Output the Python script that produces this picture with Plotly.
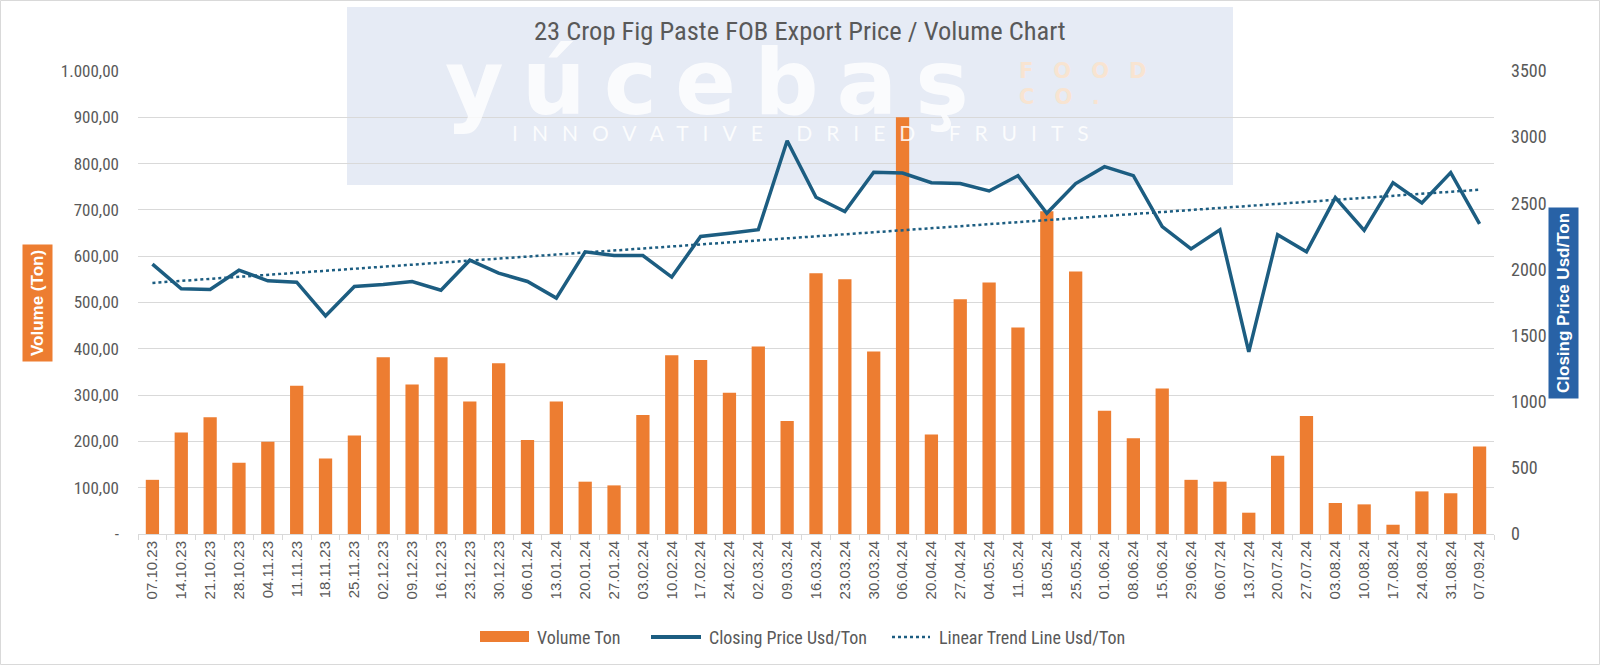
import numpy as np
import plotly.graph_objects as go

dates = ["07.10.23", "14.10.23", "21.10.23", "28.10.23", "04.11.23", "11.11.23", "18.11.23",
         "25.11.23", "02.12.23", "09.12.23", "16.12.23", "23.12.23", "30.12.23", "06.01.24",
         "13.01.24", "20.01.24", "27.01.24", "03.02.24", "10.02.24", "17.02.24", "24.02.24",
         "02.03.24", "09.03.24", "16.03.24", "23.03.24", "30.03.24", "06.04.24", "20.04.24",
         "27.04.24", "04.05.24", "11.05.24", "18.05.24", "25.05.24", "01.06.24", "08.06.24",
         "15.06.24", "29.06.24", "06.07.24", "13.07.24", "20.07.24", "27.07.24", "03.08.24",
         "10.08.24", "17.08.24", "24.08.24", "31.08.24", "07.09.24"]

volume_ton = [117, 219, 252, 154, 199, 320, 163, 213, 382, 323, 382, 286, 369, 203,
              286, 113, 105, 257, 386, 376, 305, 405, 244, 563, 550, 394, 900, 215,
              507, 543, 446, 697, 567, 266, 207, 314, 117, 113, 46, 169, 255, 67,
              64, 20, 92, 88, 189]

closing_price = [2040, 1853, 1848, 1994, 1914, 1904, 1649, 1871, 1886, 1909, 1843, 2070, 1972, 1909,
                 1783, 2133, 2105, 2105, 1942, 2249, 2274, 2300, 2973, 2546, 2437, 2735, 2729, 2656,
                 2649, 2593, 2709, 2425, 2649, 2777, 2709, 2324, 2155, 2300, 1377, 2262, 2133, 2543,
                 2295, 2656, 2503, 2732, 2344]

left_ticks = [0, 100, 200, 300, 400, 500, 600, 700, 800, 900, 1000]
left_tick_text = ["-", "100,00", "200,00", "300,00", "400,00", "500,00", "600,00",
                  "700,00", "800,00", "900,00", "1.000,00"]
right_ticks = [0, 500, 1000, 1500, 2000, 2500, 3000, 3500]

# linear trend line of closing price
idx = np.arange(len(closing_price))
slope, intercept = np.polyfit(idx, closing_price, 1)
trend = slope * idx + intercept

ORANGE = "#ED7D31"
BLUE = "#1C5D81"
GREY = "#595959"
NARROW = "Liberation Sans Narrow, Arial Narrow, Roboto Condensed, sans-serif"

# plot area pixel geometry (for paper-coordinate decorations)
W, H = 1600, 665
L, R, T, B = 138, 106, 71, 131
PW, PH = W - L - R, H - T - B
def px(x):
    return (x - L) / PW
def py(y):
    return (H - B - y) / PH

fig = go.Figure()
fig.add_trace(go.Bar(x=dates, y=volume_ton, name="Volume Ton", marker_color=ORANGE,
                     marker_line_width=0, yaxis="y"))
fig.add_trace(go.Scatter(x=dates, y=closing_price, name="Closing Price Usd/Ton", mode="lines",
                         line=dict(color=BLUE, width=3.5), yaxis="y2"))
fig.add_trace(go.Scatter(x=dates, y=trend, name="Linear Trend Line Usd/Ton", mode="lines",
                         line=dict(color=BLUE, width=2.5, dash="dot"), yaxis="y2"))

shapes = [
    # outer chart border
    dict(type="rect", xref="paper", yref="paper", x0=px(0.5), x1=px(W - 0.5), y0=py(H - 0.5), y1=py(0.5),
         line=dict(color="#D9D9D9", width=1), fillcolor="rgba(0,0,0,0)", layer="below"),
    # watermark panel
    dict(type="rect", xref="paper", yref="paper", x0=px(347), x1=px(1233), y0=py(185), y1=py(7),
         line=dict(width=0), fillcolor="#E6EBF5", layer="below"),
    # manual legend swatches
    dict(type="rect", xref="paper", yref="paper", x0=px(480), x1=px(529), y0=py(642), y1=py(631),
         line=dict(width=0), fillcolor=ORANGE),
    dict(type="line", xref="paper", yref="paper", x0=px(651), x1=px(701), y0=py(637), y1=py(637),
         line=dict(color=BLUE, width=4)),
    dict(type="line", xref="paper", yref="paper", x0=px(892), x1=px(930), y0=py(637), y1=py(637),
         line=dict(color=BLUE, width=2.5, dash="dot")),
]

annotations = [
    # watermark texts
    dict(text='<span style="letter-spacing:18px"><b>yúcebaş</b></span>', xref="paper", yref="paper",
         x=px(716), y=py(82), showarrow=False,
         font=dict(family="DejaVu Sans", size=90, color="white"), opacity=0.8,
         xanchor="center", yanchor="middle"),
    dict(text='<span style="letter-spacing:20px"><b>FOOD</b></span>', xref="paper", yref="paper",
         x=px(1017), y=py(71), showarrow=False,
         font=dict(family="DejaVu Sans", size=21, color="#FCE3CB"), opacity=0.85,
         xanchor="left", yanchor="middle"),
    dict(text='<span style="letter-spacing:20px"><b>CO.</b></span>', xref="paper", yref="paper",
         x=px(1017), y=py(97), showarrow=False,
         font=dict(family="DejaVu Sans", size=21, color="#FCE3CB"), opacity=0.85,
         xanchor="left", yanchor="middle"),
    dict(text='<span style="letter-spacing:14px">INNOVATIVE DRIED FRUITS</span>', xref="paper", yref="paper",
         x=px(807), y=py(132), showarrow=False,
         font=dict(family="Lato, sans-serif", size=21, color="white"), opacity=0.85,
         xanchor="center", yanchor="middle"),
    # title
    dict(text="23 Crop Fig Paste FOB Export Price / Volume Chart", xref="paper", yref="paper",
         x=px(800), y=py(31), showarrow=False, font=dict(family=NARROW, size=26.5, color=GREY),
         xanchor="center", yanchor="middle"),
    # axis titles in coloured boxes
    dict(text="<b>Volume (Ton)</b>", xref="paper", yref="paper", x=px(37), y=py(303), showarrow=False,
         textangle=-90, bgcolor=ORANGE, borderpad=5, font=dict(family="Liberation Sans", size=17, color="white"),
         xanchor="center", yanchor="middle"),
    dict(text="<b>Closing Price Usd/Ton</b>", xref="paper", yref="paper", x=px(1563), y=py(303), showarrow=False,
         textangle=-90, bgcolor="#2862A6", borderpad=5, font=dict(family="Liberation Sans", size=17, color="white"),
         xanchor="center", yanchor="middle"),
    # manual legend labels
    dict(text="Volume Ton", xref="paper", yref="paper", x=px(535), y=py(637), showarrow=False,
         font=dict(family=NARROW, size=18, color=GREY), xanchor="left", yanchor="middle"),
    dict(text="Closing Price Usd/Ton", xref="paper", yref="paper", x=px(707), y=py(637), showarrow=False,
         font=dict(family=NARROW, size=18, color=GREY), xanchor="left", yanchor="middle"),
    dict(text="Linear Trend Line Usd/Ton", xref="paper", yref="paper", x=px(937), y=py(637), showarrow=False,
         font=dict(family=NARROW, size=18, color=GREY), xanchor="left", yanchor="middle"),
]

fig.update_layout(
    width=W, height=H,
    margin=dict(l=L, r=R, t=T, b=B, pad=0),
    paper_bgcolor="white", plot_bgcolor="rgba(0,0,0,0)",
    showlegend=False,
    bargap=0.54,
    xaxis=dict(type="category", tickangle=-90, tickfont=dict(family="Liberation Sans", size=15, color=GREY),
               showgrid=False, showline=True, linecolor="#D9D9D9", linewidth=1,
               ticks="outside", tickson="boundaries", ticklen=5, tickcolor="#D9D9D9"),
    yaxis=dict(range=[0, 1000], tickvals=left_ticks, ticktext=left_tick_text,
               tickfont=dict(family=NARROW, size=17, color=GREY), showgrid=True, gridcolor="#D9D9D9",
               gridwidth=1, zeroline=False, showline=False, ticklabelstandoff=18),
    yaxis2=dict(range=[0, 3500], tickvals=right_ticks, overlaying="y", side="right",
                tickfont=dict(family=NARROW, size=18, color=GREY), showgrid=False, zeroline=False,
                showline=False, ticklabelstandoff=16),
    shapes=shapes,
    annotations=annotations,
)

fig.write_html("out.html")
